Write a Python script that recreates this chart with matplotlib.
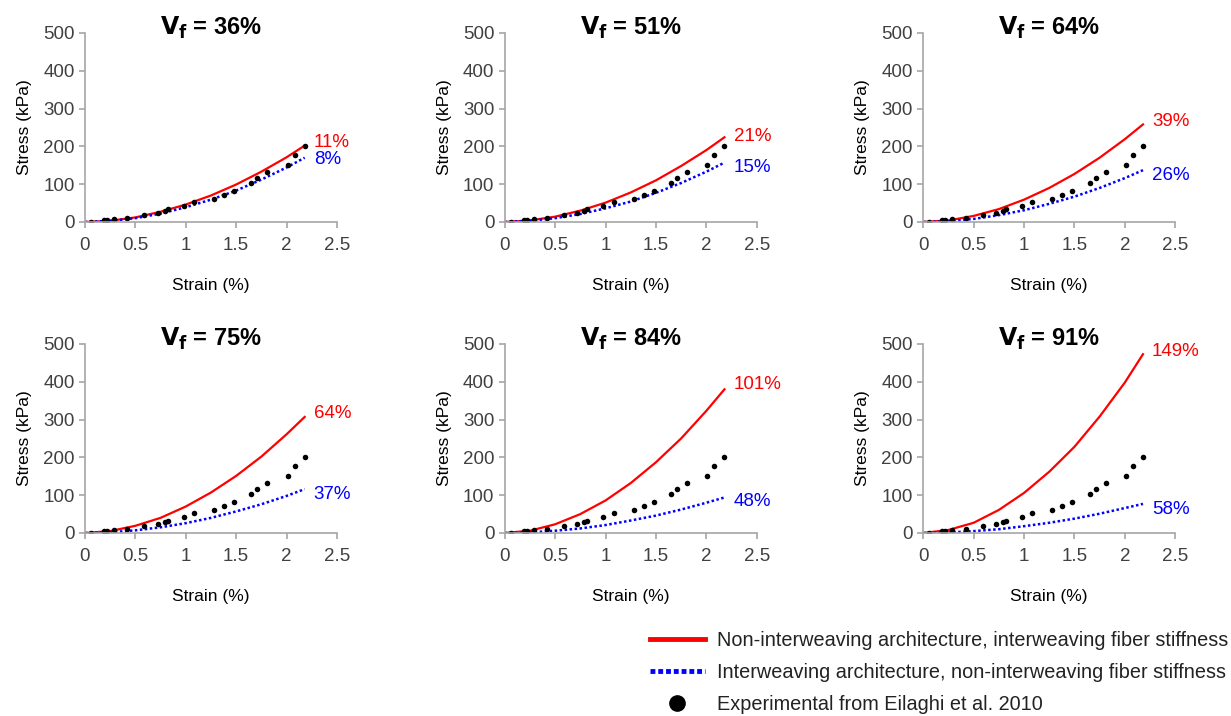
import matplotlib
matplotlib.use('Agg')
import matplotlib.pyplot as plt
from matplotlib.lines import Line2D

plt.rcParams['font.family'] = ['Liberation Sans', 'DejaVu Sans']

vf = ['36%', '51%', '64%', '75%', '84%', '91%']

# model curves, sampled at these strains
strain = [0, 0.25, 0.5, 0.75, 1.0, 1.25, 1.5, 1.75, 2.0, 2.18]
red = [
    [0, 3, 12, 27, 46, 70, 99, 133, 171, 202],
    [0, 4, 14, 30, 51, 78, 110, 148, 190, 224],
    [0, 4, 16, 34, 59, 90, 127, 170, 219, 258],
    [0, 5, 19, 40, 70, 107, 151, 202, 261, 307],
    [0, 6, 23, 50, 86, 132, 187, 250, 323, 380],
    [0, 8, 27, 61, 106, 162, 228, 308, 398, 473],
]
blue = [
    [0, 3, 10, 22, 39, 59, 83, 112, 144, 170],
    [0, 3, 10, 21, 36, 54, 77, 103, 133, 157],
    [0, 2, 8, 18, 31, 48, 67, 90, 116, 137],
    [0, 2, 7, 15, 26, 40, 57, 76, 98, 116],
    [0, 1.5, 6, 12, 21, 33, 46, 62, 80, 94],
    [0, 1.3, 5, 10, 18, 27, 38, 51, 66, 77],
]

# experimental points (Eilaghi et al. 2010)
exp_x = [0.06, 0.19, 0.22, 0.29, 0.42, 0.59, 0.72, 0.79, 0.82, 0.98,
         1.08, 1.28, 1.38, 1.48, 1.65, 1.71, 1.81, 2.01, 2.08, 2.18]
exp_y = [1, 6, 4, 8, 11, 19, 23, 28, 33, 43,
         52, 62, 72, 83, 102, 117, 133, 150, 178, 200]

# error labels and their heights
red_err = ['11%', '21%', '39%', '64%', '101%', '149%']
blue_err = ['8%', '15%', '26%', '37%', '48%', '58%']
red_lab_y = [209, 227, 267, 317, 394, 481]
blue_lab_y = [164, 143, 122, 103, 82, 63]

RED = '#ff0000'
BLUE = '#0000ff'
GREY = '#a6a6a6'
TXT = '#404040'

fig = plt.figure(figsize=(12.31, 7.16), dpi=100)

lefts = [0.069, 0.410, 0.750]
bottoms = [0.690, 0.2556]
w, h = 0.2047, 0.264

for i in range(6):
    ax = fig.add_axes([lefts[i % 3], bottoms[i // 3], w, h])
    ax.plot(strain, red[i], color=RED, lw=1.6)
    ax.plot(strain, blue[i], color=BLUE, lw=1.8, ls=(0, (1, 1)))
    ax.plot(exp_x, exp_y, 'o', color='black', ms=4, mec='none')
    ax.text(2.27, red_lab_y[i], red_err[i], color=RED, fontsize=13.5, va='center', ha='left')
    ax.text(2.27, blue_lab_y[i], blue_err[i], color=BLUE, fontsize=13.5, va='center', ha='left')

    ax.set_xlim(0, 2.5)
    ax.set_ylim(0, 500)
    ax.set_xticks([0, 0.5, 1, 1.5, 2, 2.5])
    ax.set_xticklabels(['0', '0.5', '1', '1.5', '2', '2.5'])
    ax.set_yticks([0, 100, 200, 300, 400, 500])
    for s in ['top', 'right']:
        ax.spines[s].set_visible(False)
    for s in ['left', 'bottom']:
        ax.spines[s].set_color(GREY)
        ax.spines[s].set_linewidth(1.2)
    ax.tick_params(colors=GREY, labelcolor=TXT, labelsize=13.5, length=4, width=1.2)
    ax.tick_params(axis='x', pad=7)
    ax.set_xlabel('Strain (%)', fontsize=12.5, color='black', labelpad=17)
    ax.set_ylabel('Stress (kPa)', fontsize=12.5, color='black', labelpad=8)
    ax.set_title(r'$\mathbf{V_f}$ = ' + vf[i], fontsize=17, fontweight='bold', y=1.0, pad=-1)

handles = [
    Line2D([], [], color=RED, lw=3.5),
    Line2D([], [], color=BLUE, lw=3.5, ls=(0, (1, 0.6))),
    Line2D([], [], color='black', marker='o', ls='none', ms=11),
]
labels = ['Non-interweaving architecture, interweaving fiber stiffness',
          'Interweaving architecture, non-interweaving fiber stiffness',
          'Experimental from Eilaghi et al. 2010']
leg = fig.legend(handles, labels, loc='upper left', bbox_to_anchor=(0.528, 0.119),
                 frameon=False, fontsize=14.3, handlelength=2.75, handletextpad=0.65,
                 labelspacing=0.65, borderaxespad=0, borderpad=0)
for t in leg.get_texts():
    t.set_color('#222222')

fig.savefig('out.png', dpi=100)
